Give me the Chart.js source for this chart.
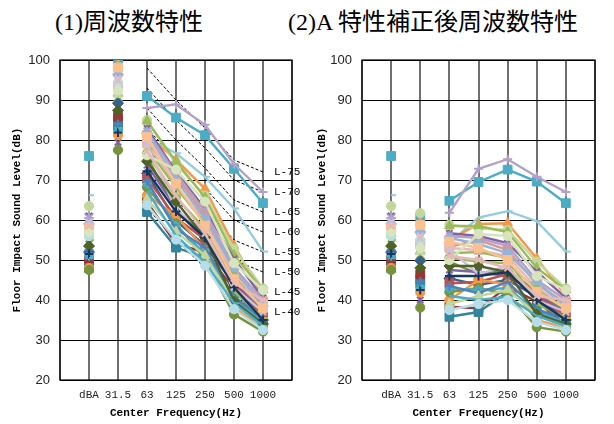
<!DOCTYPE html>
<html><head><meta charset="utf-8">
<script src="https://cdn.jsdelivr.net/npm/chart.js@4"></script>
<style>
html,body{margin:0;padding:0;background:#fff;}
#wrap{position:relative;width:614px;height:424px;overflow:hidden;background:#fff;}
.title{position:absolute;top:6px;font-family:"Liberation Serif","DejaVu Serif","Noto Sans CJK JP",serif;font-size:24px;color:#000;white-space:nowrap;line-height:32px;}
.cv{position:absolute;top:0;width:307px;height:424px;}
</style></head><body>
<div id="wrap">
<div class="title" style="left:55px">(1)周波数特性</div>
<div class="title" style="left:288px">(2)A 特性補正後周波数特性</div>
<div class="cv" style="left:0"><canvas id="c1"></canvas></div>
<div class="cv" style="left:307px"><canvas id="c2"></canvas></div>
</div>
<script>
// Category axis (blank slots at both ends)
const categories = ['', 'dBA', '31.5', '63', '125', '250', '500', '1000', ''];
// A-weighting correction for dBA, 31.5, 63, 125, 250, 500, 1000 Hz
const aWeighting = [0, -39.4, -26.2, -16.1, -8.6, -3.2, 0];

// Measured levels (dB): dBA, 31.5, 63, 125, 250, 500, 1000 Hz
const s01 = [76, 100, 91, 85.6, 81.2, 72.8, 64.2];
const s02 = [61.5, 96, 88, 88.9, 83.8, 74, 67];
const s03 = [66.2, 96.5, 80.5, 76.7, 70.8, 62.9, 52.1];
const s04 = [58, 98.75, 81.2, 75.1, 67.8, 53.6, 41];
const s05 = [63.5, 101.1, 85, 74, 66.1, 52.8, 42.9];
const s06 = [54, 91.7, 84.7, 74.6, 65.6, 51.2, 42.5];
const s07 = [61, 79.4, 82.9, 72.1, 62.8, 50.3, 40.5];
const s08 = [60.5, 96.4, 82.2, 71.6, 62.1, 48.2, 40];
const s09 = [57.9, 93.6, 79.5, 71.1, 61.1, 47.2, 39.2];
const s10 = [57.5, 93.4, 79.2, 68.6, 59.6, 46.2, 39];
const s11 = [59, 96.4, 81.7, 70.1, 60.3, 47.7, 38.5];
const s12 = [56, 89.4, 76.7, 65.7, 57.8, 45.7, 38];
const s13 = [54, 84.4, 75.8, 62.6, 56.1, 45.2, 37];
const s14 = [53, 83.4, 73.7, 63.1, 54.6, 44.7, 36.7];
const s15 = [52, 89.2, 71.6, 59.85, 53.6, 44, 35];
const s16 = [50, 84.6, 70.4, 60.6, 55.1, 44.2, 36];
const s17 = [49, 85.8, 64.5, 54, 51.9, 42.8, 33.75];
const s18 = [48, 83.4, 62, 53.1, 50.6, 41.2, 34];
const s19 = [48, 81.25, 66.2, 61.1, 52.6, 38.2, 33];
const s20 = [47.5, 77.5, 68.2, 59.1, 50.1, 36.4, 32.1];
const s21 = [51, 82.4, 69.1, 58.6, 51.6, 40.2, 34.5];
const s22 = [52.5, 84, 69.7, 57.8, 53.1, 40.7, 35.5];
const s23 = [56.5, 91.4, 65.2, 57.1, 51.1, 39.7, 33];
const s24 = [55, 87.4, 77.9, 68.1, 59.1, 42.2, 35.5];
const s25 = [59.5, 95.4, 78.7, 62.6, 57.1, 43.2, 37];
const s26 = [58, 98.1, 80.8, 69.1, 58.6, 45.2, 38];
const s27 = [53.5, 87.4, 74.7, 64.6, 55.6, 39.7, 34];
const s28 = [51.5, 81.9, 72.2, 62.1, 55.6, 43.2, 35];
const s29 = [50.5, 82.9, 67.2, 56.1, 49.4, 39.2, 33.5];
const s30 = [56, 94.4, 63.7, 55.1, 48.6, 37.7, 32.5];
const s31 = [57, 92.4, 76.2, 72.6, 64.6, 49.2, 42.5];
const s32 = [58.5, 94.9, 77.2, 66.1, 56.6, 44.2, 40];

// Reference L-number curves (63, 125, 250, 500, 1000 Hz)
const lCurveNames = ['L-75', 'L-70', 'L-65', 'L-60', 'L-55', 'L-50', 'L-45', 'L-40'];
const lCurve75 = [98, 90, 83, 75, 72];
const lCurve70 = [93, 85, 78, 70, 67];
const lCurve65 = [88, 80, 73, 65, 62];
const lCurve60 = [83, 75, 68, 60, 57];
const lCurve55 = [78, 70, 63, 55, 52];
const lCurve50 = [73, 65, 58, 50, 47];
const lCurve45 = [68, 60, 53, 45, 42];
const lCurve40 = [63, 55, 48, 40, 37];

const yTicks = [20, 30, 40, 50, 60, 70, 80, 90, 100];

const allSeries = [s01,s02,s03,s04,s05,s06,s07,s08,s09,s10,s11,s12,s13,s14,s15,s16,s17,s18,s19,s20,s21,s22,s23,s24,s25,s26,s27,s28,s29,s30,s31,s32];
const lCurves = [lCurve75,lCurve70,lCurve65,lCurve60,lCurve55,lCurve50,lCurve45,lCurve40];

// Styles (kept apart from the data)
const seriesStyles = [
  {c:'#4BACC6', m:'rect'},
  {c:'#B3A2C7', m:'cross'},
  {c:'#93CDDD', m:'dash'},
  {c:'#F79646', m:'triangle'},
  {c:'#C3D69B', m:'circle'},
  {c:'#9BBB59', m:'triangle'},
  {c:'#8064A2', m:'crossRot'},
  {c:'#B3A2C7', m:'star'},
  {c:'#D99694', m:'rect'},
  {c:'#E6B9B8', m:'rect'},
  {c:'#95B3D7', m:'rectRot'},
  {c:'#9BBB59', m:'circle'},
  {c:'#77933C', m:'crossRot'},
  {c:'#8064A2', m:'crossRot'},
  {c:'#366092', m:'rectRot'},
  {c:'#C0504D', m:'rect'},
  {c:'#953735', m:'rect'},
  {c:'#31859C', m:'rect'},
  {c:'#F79646', m:'circle'},
  {c:'#77933C', m:'circle'},
  {c:'#4BACC6', m:'star'},
  {c:'#4F81BD', m:'cross'},
  {c:'#C3D69B', m:'triangle'},
  {c:'#9BBB59', m:'dash'},
  {c:'#CCC1DA', m:'crossRot'},
  {c:'#FAC090', m:'rect'},
  {c:'#4F6228', m:'rectRot'},
  {c:'#17375E', m:'cross'},
  {c:'#4BACC6', m:'dash'},
  {c:'#B7DEE8', m:'circle'},
  {c:'#D7E4BD', m:'circle'},
  {c:'#E6B9B8', m:'crossRot'}
];

function radiusFor(m){
  return {rect:6.2, rectRot:5.5, circle:4.6, triangle:5.6, crossRot:4.5, cross:4.5, star:4.8, dash:5}[m] || 5;
}

function buildDatasets(weighted){
  const n = allSeries.length;
  const ds = allSeries.map((vals, i) => {
    const st = seriesStyles[i];
    const v = weighted ? vals.map((x, k) => Math.round((x + aWeighting[k]) * 10) / 10) : vals;
    const open = ['crossRot','cross','star','dash'].includes(st.m);
    return {
      data: [null, ...v, null],
      borderColor: st.c,
      backgroundColor: st.c,
      borderWidth: 2.4,
      pointStyle: st.m,
      pointRadius: radiusFor(st.m),
      pointBorderWidth: open ? 2 : 1,
      pointBackgroundColor: st.c,
      pointBorderColor: st.c,
      spanGaps: false,
      segment: { borderColor: ctx => ctx.p0DataIndex < 3 ? 'rgba(0,0,0,0)' : undefined },
      order: n - i + 1
    };
  });
  if (!weighted) {
    lCurves.forEach((c, i) => {
      ds.push({
        data: [null, null, null, ...c, null],
        borderColor: '#000',
        borderWidth: 1,
        borderDash: [3, 2],
        pointRadius: 0,
        spanGaps: false,
        order: 100 + i
      });
    });
  }
  return ds;
}

const boxPlugin = {
  id: 'plotBox',
  beforeDatasetsDraw(chart){
    const {ctx, chartArea:a} = chart;
    ctx.save();
    ctx.strokeStyle = '#000';
    ctx.lineWidth = 1.2;
    ctx.strokeRect(a.left, a.top, a.right - a.left, a.bottom - a.top);
    ctx.restore();
  }
};

const lLabelPlugin = {
  id: 'lLabels',
  afterDatasetsDraw(chart){
    const {ctx, scales:{x, y}} = chart;
    ctx.save();
    ctx.font = '11px "Liberation Mono", "DejaVu Sans Mono", monospace';
    ctx.fillStyle = '#000';
    ctx.textBaseline = 'middle';
    ctx.textAlign = 'left';
    lCurves.forEach((c, i) => {
      const px = x.getPixelForValue(7) + 11;
      const py = y.getPixelForValue(c[4]);
      ctx.fillText(lCurveNames[i], px, py);
    });
    ctx.restore();
  }
};

function makeChart(id, weighted, yW, rightPad, yTitlePad){
  const plugins = [boxPlugin];
  if (!weighted) plugins.push(lLabelPlugin);
  return new Chart(document.getElementById(id), {
    type: 'line',
    data: { labels: categories, datasets: buildDatasets(weighted) },
    plugins,
    options: {
      responsive: true,
      maintainAspectRatio: false,
      animation: false,
      events: [],
      layout: { padding: { top: 60, right: rightPad, left: 0, bottom: 0 } },
      plugins: { legend: { display: false }, tooltip: { enabled: false }, title: { display: false } },
      scales: {
        x: {
          type: 'category',
          offset: false,
          grid: { color: '#707070', lineWidth: 2, drawTicks: false },
          border: { display: false },
          ticks: { autoSkip: false, maxRotation: 0, minRotation: 0, padding: 8, color: '#222',
                   font: { family: '"Liberation Mono", "DejaVu Sans Mono", monospace', size: 11 } },
          title: { display: true, text: 'Center Frequency(Hz)', color: '#000',
                   font: { family: '"Liberation Mono", "DejaVu Sans Mono", monospace', size: 11, weight: 'bold' },
                   padding: { top: 0, bottom: 4 } },
          afterFit(s){ s.height = 44; }
        },
        y: {
          min: 20, max: 100,
          afterBuildTicks(s){ s.ticks = yTicks.map(v => ({ value: v })); },
          grid: { color: '#000', lineWidth: 1, drawTicks: false },
          border: { display: false },
          ticks: { padding: 10, color: '#222',
                   font: { family: '"Liberation Sans Narrow", "Liberation Sans", sans-serif', size: 13 } },
          title: { display: true, text: 'Floor Impact Sound Level(dB)', color: '#000',
                   font: { family: '"Liberation Mono", "DejaVu Sans Mono", monospace', size: 11, weight: 'bold' },
                   padding: { top: yTitlePad, bottom: 0 } },
          afterFit(s){ s.width = yW; }
        }
      }
    }
  });
}

makeChart('c1', false, 60, 15, 11);
makeChart('c2', true, 55, 19, 9);
</script>
</body></html>
